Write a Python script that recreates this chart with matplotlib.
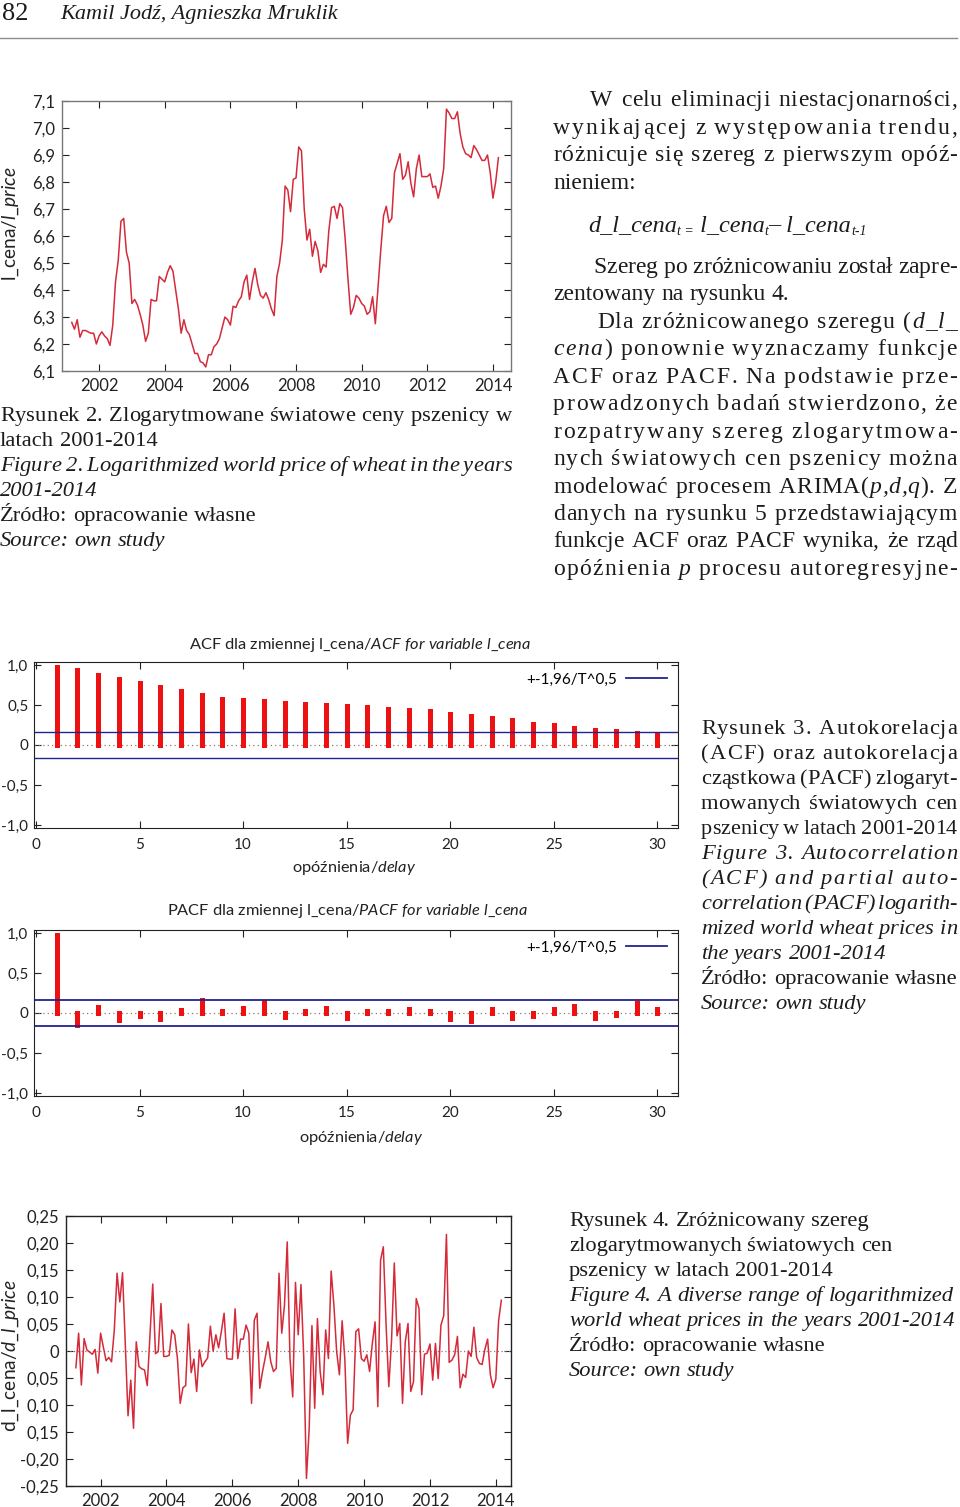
import numpy as np
import pandas as pd
import matplotlib
matplotlib.use('Agg')
import matplotlib.pyplot as plt
from matplotlib.lines import Line2D
from matplotlib.font_manager import FontProperties

plt.rcParams['font.family'] = ['Lato', 'DejaVu Sans']
plt.rcParams['mathtext.fontset'] = 'custom'
plt.rcParams['mathtext.rm'] = 'Lato'
plt.rcParams['mathtext.it'] = 'Lato:italic'

# ---- data ----
# monthly log price, Mar 2001 .. Mar 2014
l_cena = [
    6.28, 6.255, 6.29, 6.225, 6.25, 6.25, 6.245, 6.24, 6.24, 6.20,
    6.23, 6.245, 6.23, 6.22, 6.195, 6.27, 6.43, 6.51, 6.655, 6.665, 6.54, 6.50,
    6.35, 6.365, 6.345, 6.31, 6.27, 6.21, 6.24, 6.365, 6.36, 6.36, 6.45, 6.44,
    6.43, 6.465, 6.49, 6.47, 6.40, 6.33, 6.24, 6.29, 6.25, 6.235, 6.20, 6.165,
    6.165, 6.135, 6.13, 6.115, 6.16, 6.16, 6.19, 6.20, 6.22, 6.26, 6.30, 6.29,
    6.27, 6.34, 6.335, 6.36, 6.375, 6.43, 6.455, 6.365, 6.43, 6.48, 6.42, 6.38,
    6.37, 6.39, 6.365, 6.33, 6.305, 6.45, 6.50, 6.585, 6.785, 6.77, 6.69, 6.81,
    6.815, 6.93, 6.915, 6.70, 6.585, 6.625, 6.525, 6.58, 6.545, 6.465, 6.495, 6.485,
    6.62, 6.705, 6.71, 6.665, 6.72, 6.705, 6.585, 6.44, 6.31, 6.335, 6.38, 6.37,
    6.35, 6.34, 6.31, 6.32, 6.375, 6.275, 6.415, 6.55, 6.675, 6.71, 6.65, 6.665,
    6.835, 6.87, 6.905, 6.81, 6.825, 6.875, 6.795, 6.745, 6.85, 6.90, 6.82, 6.82,
    6.82, 6.83, 6.78, 6.785, 6.74, 6.785, 6.85, 7.07, 7.055, 7.035, 7.035, 7.06,
    6.98, 6.93, 6.905, 6.90, 6.89, 6.935, 6.92, 6.90, 6.88, 6.88, 6.90, 6.835,
    6.74, 6.80, 6.89,
]
# monthly first difference, Apr 2001 .. Mar 2014
d_l_cena = [
    -0.031, 0.033, -0.063, 0.023, 0.002, -0.002, -0.006, 0.003, -0.041,
    0.033, 0.008, -0.018, -0.012, -0.02, 0.039, 0.144, 0.091, 0.145, 0.01, -0.12, -0.054,
    -0.143, 0.017, -0.029, -0.033, -0.035, -0.064, 0.03, 0.124, -0.005, -0.001, 0.088, -0.01,
    -0.01, -0.008, 0.039, 0.03, -0.014, -0.097, -0.068, -0.064, 0.05, -0.04, -0.015, -0.075,
    0.002, -0.029, -0.02, -0.013, 0.046, 0.0, 0.03, 0.006, 0.036, 0.07, -0.014, -0.015,
    -0.015, 0.078, -0.014, 0.022, 0.022, 0.048, 0.033, -0.097, 0.057, 0.07, -0.069, -0.038,
    -0.012, 0.017, -0.02, -0.038, -0.032, 0.144, 0.033, 0.085, 0.202, -0.014, -0.085, 0.127,
    0.03, 0.123, -0.01, -0.236, -0.143, 0.047, -0.106, 0.06, -0.038, -0.081, 0.039, -0.014,
    0.148, 0.085, -0.001, -0.044, 0.056, -0.017, -0.171, -0.119, -0.109, 0.036, 0.041, -0.014,
    -0.019, -0.007, -0.038, 0.014, 0.054, -0.103, 0.168, 0.193, 0.05, -0.066, 0.02, 0.163,
    0.028, 0.051, -0.097, 0.017, 0.051, -0.075, -0.057, 0.097, 0.079, -0.081, -0.006, -0.004,
    0.013, -0.054, 0.014, -0.051, 0.048, 0.065, 0.216, -0.021, -0.017, -0.007, 0.027, -0.068,
    -0.043, -0.049, 0.0, -0.01, 0.044, -0.012, -0.023, -0.025, 0.003, 0.022, -0.044, -0.068,
    -0.052, 0.056, 0.094,
]
lags = list(range(1, 31))
acf = [0.98, 0.94, 0.88, 0.83, 0.77, 0.72, 0.67, 0.625, 0.58, 0.56,
       0.545, 0.53, 0.517, 0.50, 0.485, 0.47, 0.456, 0.435, 0.423, 0.39,
       0.362, 0.338, 0.31, 0.265, 0.244, 0.216, 0.187, 0.17, 0.155, 0.14]
pacf = [0.97, -0.15, 0.075, -0.09, -0.035, -0.08, 0.035, 0.16, 0.024, 0.06,
        0.143, -0.048, 0.028, 0.063, -0.063, 0.028, 0.028, 0.055, 0.024, -0.08,
        -0.10, 0.051, -0.063, -0.035, 0.051, 0.087, -0.063, -0.024, 0.119, 0.055]
conf = 1.96 / np.sqrt(len(l_cena))

years = [2002, 2004, 2006, 2008, 2010, 2012, 2014]
lvl_ticks = [6.1, 6.2, 6.3, 6.4, 6.5, 6.6, 6.7, 6.8, 6.9, 7.0, 7.1]
diff_ticks = [-0.25, -0.20, -0.15, -0.10, -0.05, 0, 0.05, 0.10, 0.15, 0.20, 0.25]
diff_labels = ['-0,25', '-0,20', '0,15', '0,10', '0,05', '0',
               '0,05', '0,10', '0,15', '0,20', '0,25']
corr_ticks = [-1.0, -0.5, 0, 0.5, 1.0]
corr_labels = ['-1,0', '-0,5', '0', '0,5', '1,0']

m1 = pd.date_range('2001-03-01', periods=len(l_cena), freq='MS')
t_level = m1.year + (m1.month - 1) / 12
m2 = pd.date_range('2001-04-01', periods=len(d_l_cena), freq='MS')
t_diff = m2.year + (m2.month - 1) / 12

RED = '#d52a3a'
BAR = '#ee1111'
BLUE = '#23238f'
INK = '#1c1c1c'
SERIF = 'Liberation Serif'

W, H = 960, 1507
fig = plt.figure(figsize=(W / 100, H / 100), dpi=100)


def add_ax(l, t, r, b):
    return fig.add_axes([l / W, 1 - b / H, (r - l) / W, (b - t) / H])


def comma(v, fmt):
    return (fmt % v).replace('.', ',')


# ---- Figure 2: level ----
ax1 = add_ax(62, 101, 511, 371)
ax1.plot(t_level, l_cena, color=RED, lw=1.1)
ax1.set_xlim(2000.87, 2014.55)
ax1.set_ylim(6.1, 7.1)
ax1.set_xticks(years, [str(y) for y in years])
ax1.set_yticks(lvl_ticks, [comma(v, '%.1f') for v in lvl_ticks])

# ---- Figure 4: differences ----
ax4 = add_ax(66, 1216, 511, 1486)
ax4.axhline(0, color='#8a7a70', lw=0.9, ls=(0, (1, 2)))
ax4.plot(t_diff, d_l_cena, color=RED, lw=1.1)
ax4.set_xlim(2000.95, 2014.46)
ax4.set_ylim(-0.25, 0.25)
ax4.set_xticks(years, [str(y) for y in years])
ax4.set_yticks(diff_ticks, diff_labels)

for ax, sc in ((ax1, '#777777'), (ax4, '#222222')):
    ax.tick_params(direction='in', top=True, right=True, length=5, width=0.8,
                   labelsize=12, pad=5, colors='#222222')
    for s in ax.spines.values():
        s.set_color(sc)
        s.set_linewidth(1.0)

# ---- Figure 3: ACF / PACF ----
axA = add_ax(34, 662, 678, 828)
axP = add_ax(34, 930, 678, 1096)
for ax, vals, cw in ((axA, acf, 1.0), (axP, pacf, 1.3)):
    ax.axhline(0, color='#8a7a70', lw=0.9, ls=(0, (1, 2.5)))
    lc = ax.vlines(lags, 0, vals, color=BAR, lw=3.6)
    lc.set_capstyle('projecting')
    ax.axhline(conf, color=BLUE, lw=cw)
    ax.axhline(-conf, color=BLUE, lw=cw)
    ax.set_xlim(-0.1, 31.0)
    ax.set_ylim(-1.0375, 1.0375)
    ax.set_xticks(range(0, 31, 5))
    ax.set_yticks(corr_ticks, corr_labels)
    ax.tick_params(direction='in', top=True, right=True, length=5, width=0.8,
                   labelsize=11, colors='#222222')
    ax.tick_params(axis='x', pad=7)
    ax.tick_params(axis='y', pad=4)
    for s in ax.spines.values():
        s.set_color('#222222')
    ax.legend([Line2D([], [], color=BLUE, lw=1.3)], ['+-1,96/T^0,5'],
              loc='upper right', frameon=False, markerfirst=False,
              handlelength=2.7, fontsize=11, borderaxespad=0.3,
              handletextpad=0.6)

# ---- page layer for all the text ----
page = fig.add_axes([0, 0, 1, 1], zorder=-1)
page.set_xlim(0, W)
page.set_ylim(H, 0)
page.axis('off')
renderer = fig.canvas.get_renderer()

page.text(360, 645, r'ACF dla zmiennej l_cena/$\mathit{ACF\ for\ variable\ l\_cena}$',
          fontsize=11.8, ha='center', va='center', color='#222222')
page.text(354, 868, r'opóźnienia/$\mathit{delay}$', fontsize=11.8, ha='center',
          va='center', color='#222222')
page.text(348, 911, r'PACF dla zmiennej l_cena/$\mathit{PACF\ for\ variable\ l\_cena}$',
          fontsize=11.8, ha='center', va='center', color='#222222')
page.text(361, 1138, r'opóźnienia/$\mathit{delay}$', fontsize=11.8, ha='center',
          va='center', color='#222222')
page.text(11, 224, r'l_cena/$\mathit{l\_price}$', fontsize=13.8, rotation=90,
          ha='center', va='center', color='#222222')
page.text(11, 1356, r'd_l_cena/$\mathit{d\_l\_price}$', fontsize=13.8, rotation=90,
          ha='center', va='center', color='#222222')

_adv = {}


def adv(s, size, italic):
    # advance width in pixels, measured between two H's
    key = (s, size, italic)
    if key not in _adv:
        prop = FontProperties(family=SERIF, style='italic' if italic else 'normal',
                              size=size)
        w1 = renderer.get_text_width_height_descent('H' + s + 'H', prop, ismath=False)[0]
        w0 = renderer.get_text_width_height_descent('HH', prop, ismath=False)[0]
        _adv[key] = w1 - w0
    return _adv[key]


def seg_text(text, x, y, size, italic):
    return page.text(x, y, text, fontsize=size, family=SERIF, color=INK,
                     style='italic' if italic else 'normal',
                     ha='left', va='baseline')


def run(x, y, segs):
    # segs: (text, italic, size, dy) drawn one after another
    for text, it, size, dy in segs:
        seg_text(text, x, y + dy, size, it)
        x += adv(text, size, it)
    return x


def parse(line):
    words, it = [], False
    for w in line.split(' '):
        segs = []
        for i, p in enumerate(w.split('*')):
            if i > 0:
                it = not it
            if p:
                segs.append((p, it))
        words.append(segs)
    return words


def put_line(line, x0, yc, size, x1=None):
    words = parse(line)
    nsp = len(words) - 1
    while True:
        base = yc + 0.375 * size
        px = size * 100 / 72
        sp = 0.25 * px
        if x1 is None or nsp == 0:
            x = x0
            for segs in words:
                for t, it in segs:
                    seg_text(t, x, base, size, it)
                    x += adv(t, size, it)
                x += sp
            return
        wl = [sum(adv(c, size, it) for t, it in segs for c in t) for segs in words]
        extra = (x1 - x0) - (sum(wl) + nsp * sp)
        if extra < -0.45 * sp * nsp:
            size *= 0.99
            continue
        track = 0.0
        if extra < 0:
            sp += extra / nsp
        else:
            sp_add = min(extra, 0.45 * sp * nsp)
            rest = extra - sp_add
            ngaps = sum(len(t) for segs in words for t, it in segs) - len(words)
            if ngaps > 0:
                track = min(rest / ngaps, 0.12 * px)
                rest -= track * ngaps
            sp += (sp_add + rest) / nsp
        x = x0
        for segs in words:
            for t, it in segs:
                for c in t:
                    seg_text(c, x, base, size, it)
                    x += adv(c, size, it) + track
            x += sp - track
        return


# header
seg_text('82', 2, 20, 19, False)
seg_text('Kamil Jodź, Agnieszka Mruklik', 60, 19, 16, True)
page.plot([0, 957], [38, 38], color='#8c8c8c', lw=1.0)

# caption of figure 2
CAP = 16.2
cap2 = [
    ('Rysunek 2. Zlogarytmowane światowe ceny pszenicy w', 512),
    ('latach 2001-2014', None),
    ('*Figure 2. Logarithmized world price of wheat in the years*', 512),
    ('*2001-2014*', None),
    ('Źródło: opracowanie własne', None),
    ('*Source: own study*', None),
]
for i, (ln, x1) in enumerate(cap2):
    put_line(ln, 0, 415 + 25 * i, CAP, x1)

# body paragraph
BODY = 17
R = 957
body = [
    ('W celu eliminacji niestacjonarności,', 590, 100, R),
    ('wynikającej z występowania trendu,', 553, 128, R),
    ('różnicuje się szereg z pierwszym opóź-', 553, 155, R),
    ('nieniem:', 553, 183, None),
    ('Szereg po zróżnicowaniu został zapre-', 593, 267, R),
    ('zentowany na rysunku 4.', 553, 294, None),
    ('Dla zróżnicowanego szeregu (*d_l_*', 597, 322, R),
    ('*cena*) ponownie wyznaczamy funkcje', 553, 349, R),
    ('ACF oraz PACF. Na podstawie prze-', 553, 377, R),
    ('prowadzonych badań stwierdzono, że', 553, 404, R),
    ('rozpatrywany szereg zlogarytmowa-', 553, 432, R),
    ('nych światowych cen pszenicy można', 553, 459, R),
    ('modelować procesem ARIMA(*p,d,q*). Z', 553, 487, R),
    ('danych na rysunku 5 przedstawiającym', 553, 514, R),
    ('funkcje ACF oraz PACF wynika, że rząd', 553, 541, R),
    ('opóźnienia *p* procesu autoregresyjne-', 553, 569, R),
]
for ln, x0, yc, x1 in body:
    put_line(ln, x0, yc, BODY, x1)

# formula
run(588, 231, [('d_l_cena', True, 17.5, 0), ('t =', True, 10, 4),
               (' l_cena', True, 17.5, 0), ('t', True, 10, 4),
               ('–', False, 17.5, 0), (' l_cena', True, 17.5, 0),
               ('t-1', True, 10, 4)])

# caption of figure 3
cap3 = [
    ('Rysunek 3. Autokorelacja', R),
    ('(ACF) oraz autokorelacja', R),
    ('cząstkowa (PACF) zlogaryt-', R),
    ('mowanych światowych cen', R),
    ('pszenicy w latach 2001-2014', R),
    ('*Figure 3. Autocorrelation*', R),
    ('*(ACF) and partial auto-*', R),
    ('*correlation (PACF) logarith-*', R),
    ('*mized world wheat prices in*', R),
    ('*the years 2001-2014*', None),
    ('Źródło: opracowanie własne', None),
    ('*Source: own study*', None),
]
for i, (ln, x1) in enumerate(cap3):
    put_line(ln, 701, 728 + 25 * i, CAP, x1)

# caption of figure 4
cap4 = [
    'Rysunek 4. Zróżnicowany szereg',
    'zlogarytmowanych światowych cen',
    'pszenicy w latach 2001-2014',
    '*Figure 4. A diverse range of logarithmized*',
    '*world wheat prices in the years 2001-2014*',
    'Źródło: opracowanie własne',
    '*Source: own study*',
]
for i, ln in enumerate(cap4):
    put_line(ln, 569, 1220 + 25 * i, CAP)

fig.savefig('out.png', dpi=100)
